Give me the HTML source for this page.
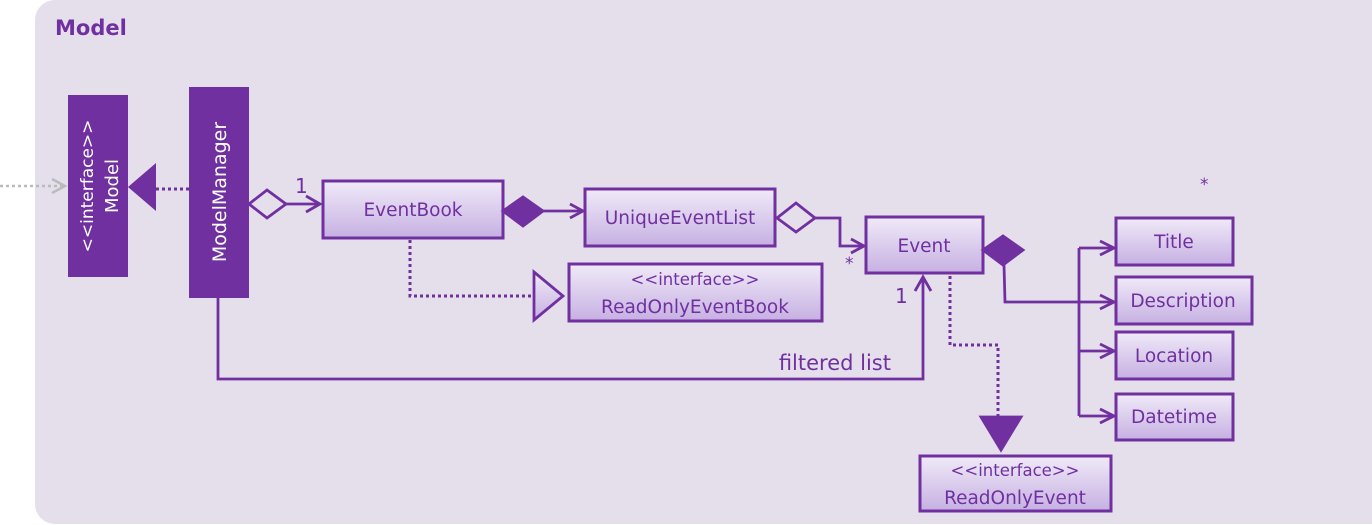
<!DOCTYPE html>
<html><head><meta charset="utf-8"><style>
html,body{margin:0;padding:0;background:#fff;}
svg{display:block}
text{font-family:"DejaVu Sans","Liberation Sans",sans-serif;fill:#7030a0}
</style></head><body>
<svg width="1372" height="525" viewBox="0 0 1372 525" xmlns="http://www.w3.org/2000/svg">
<defs>
<linearGradient id="g" x1="0" y1="0" x2="0" y2="1">
<stop offset="0" stop-color="#f0eaf8"/><stop offset="1" stop-color="#c6b0e2"/>
</linearGradient>
</defs>
<rect x="35" y="0" width="1360" height="524" rx="20" fill="#e5dfec"/>
<text x="55" y="35" font-size="21" font-weight="bold" font-family="Liberation Sans">Model</text>

<line x1="0" y1="186" x2="64" y2="186" stroke="#bbb" stroke-width="2.5" stroke-dasharray="3,3"/>
<polyline points="52,179 65,186 52,193" fill="none" stroke="#bbb" stroke-width="2.5"/>

<rect x="68" y="95" width="60" height="182" fill="#7030a0"/>
<text transform="translate(93,186) rotate(-90)" text-anchor="middle" font-size="17" style="fill:#fff">&lt;&lt;interface&gt;&gt;</text>
<text transform="translate(118,186) rotate(-90)" text-anchor="middle" font-size="18" style="fill:#fff">Model</text>
<polygon points="128,187 156,163 156,211" fill="#7030a0"/>
<line x1="156" y1="189" x2="189" y2="189" stroke="#7030a0" stroke-width="3" stroke-dasharray="3,3"/>

<rect x="189" y="87" width="60" height="211" fill="#7030a0"/>
<text transform="translate(226,192) rotate(-90)" text-anchor="middle" font-size="19" style="fill:#fff">ModelManager</text>

<g stroke="#7030a0" stroke-width="2.8" fill="none">
<polygon points="249,204 267,190 286,204 267,218" fill="#e5dfec"/>
<line x1="286" y1="204" x2="320" y2="204"/>
<polyline points="306,196 320,204 306,212"/>
<rect x="323" y="181" width="180" height="57" fill="url(#g)" stroke-width="3"/>
<polygon points="503,211 523,197 543,211 523,226" fill="#7030a0"/>
<line x1="543" y1="211" x2="583" y2="211"/>
<polyline points="570,204 583,211 570,218"/>
<rect x="585" y="189" width="190" height="57" fill="url(#g)" stroke-width="3"/>
<polygon points="777,218 796,203 815,218 796,232" fill="#e5dfec"/>
<polyline points="815,218 840,218 840,246 864,246"/>
<polyline points="851,239 864,246 851,253"/>
<rect x="866" y="217" width="117" height="56" fill="url(#g)" stroke-width="3"/>
<polyline points="410,240 410,296 534,296" stroke-dasharray="3,3" stroke-width="3"/>
<polygon points="534,272 563,296 534,320" fill="url(#g)"/>
<rect x="569" y="264" width="253" height="57" fill="url(#g)" stroke-width="3"/>
<polyline points="218,298 218,379 923,379 923,277"/>
<polyline points="915,291 923,277 931,291"/>
<polygon points="983,250 1003,236 1023,250 1003,265" fill="#7030a0"/>
<polyline points="1004,265 1005,302 1114,302"/>
<line x1="1079" y1="248" x2="1079" y2="416"/>
<line x1="1079" y1="248" x2="1114" y2="248"/>
<line x1="1079" y1="351" x2="1114" y2="351"/>
<line x1="1079" y1="416" x2="1114" y2="416"/>
<polyline points="1100,241 1114,248 1100,255"/>
<polyline points="1100,295 1114,302 1100,309"/>
<polyline points="1100,344 1114,351 1100,358"/>
<polyline points="1100,409 1114,416 1100,423"/>
<rect x="1116" y="218" width="117" height="47" fill="url(#g)" stroke-width="3"/>
<rect x="1116" y="277" width="136" height="47" fill="url(#g)" stroke-width="3"/>
<rect x="1116" y="332" width="117" height="47" fill="url(#g)" stroke-width="3"/>
<rect x="1116" y="394" width="117" height="46" fill="url(#g)" stroke-width="3"/>
<polyline points="950,276 950,345 998,345 998,417" stroke-dasharray="3,3" stroke-width="3"/>
<polygon points="981,417 1021,417 1001,450" fill="#7030a0"/>
<rect x="920" y="456" width="191" height="55" fill="url(#g)" stroke-width="3"/>
</g>

<text x="295" y="193" font-size="20" font-family="Liberation Sans">1</text>
<text x="413" y="216" text-anchor="middle" font-size="18.5">EventBook</text>
<text x="680" y="224" text-anchor="middle" font-size="18.5">UniqueEventList</text>
<text x="845" y="269" font-size="17">*</text>
<text x="924" y="252" text-anchor="middle" font-size="18.5">Event</text>
<text x="695" y="285" text-anchor="middle" font-size="16.5">&lt;&lt;interface&gt;&gt;</text>
<text x="695" y="313" text-anchor="middle" font-size="18.5">ReadOnlyEventBook</text>
<text x="891" y="370" text-anchor="end" font-size="21" font-family="Liberation Sans">filtered list</text>
<text x="895" y="303" font-size="20" font-family="Liberation Sans">1</text>
<text x="1200" y="190" font-size="17">*</text>
<text x="1174" y="248" text-anchor="middle" font-size="18.5">Title</text>
<text x="1183" y="307" text-anchor="middle" font-size="18.5">Description</text>
<text x="1174" y="362" text-anchor="middle" font-size="18.5">Location</text>
<text x="1174" y="423" text-anchor="middle" font-size="18.5">Datetime</text>
<text x="1015" y="476" text-anchor="middle" font-size="16.5">&lt;&lt;interface&gt;&gt;</text>
<text x="1015" y="504" text-anchor="middle" font-size="18.5">ReadOnlyEvent</text>
</svg>
</body></html>
